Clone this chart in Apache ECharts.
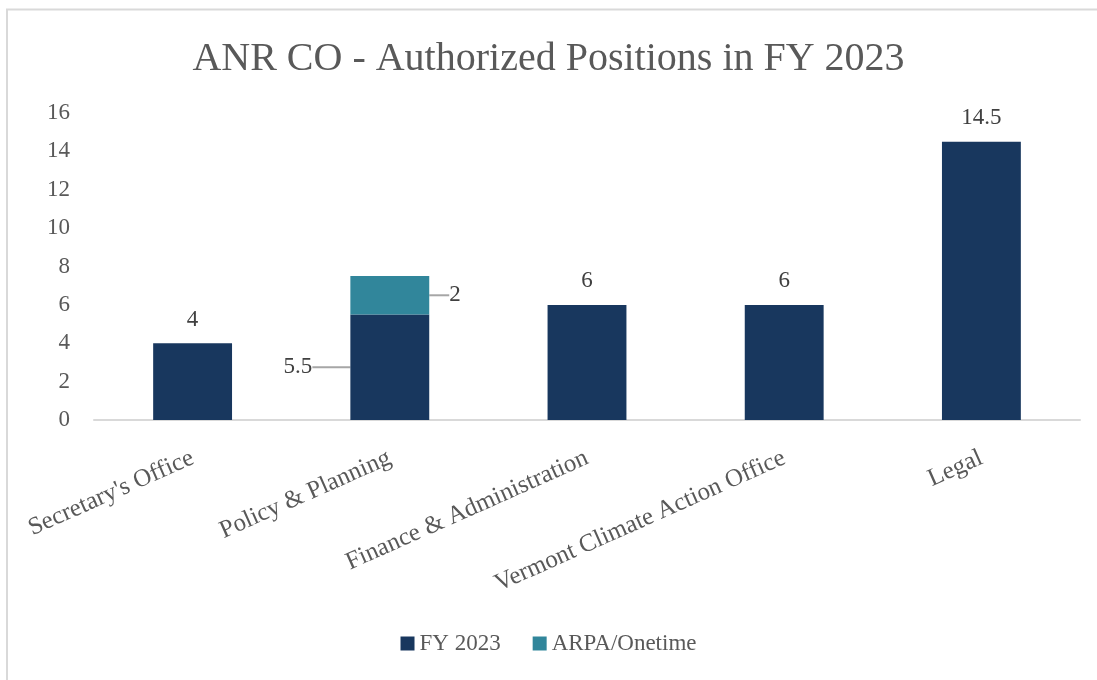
<!DOCTYPE html>
<html>
<head>
<meta charset="utf-8">
<script src="https://cdn.jsdelivr.net/npm/echarts@6/dist/echarts.min.js"></script>
<style>
  html, body { margin: 0; padding: 0; background: #fff; }
  #chart { width: 1097px; height: 680px; }
</style>
</head>
<body>
<div id="chart"></div>
<script>
const categories = ['Secretary\'s Office', 'Policy & Planning', 'Finance & Administration', 'Vermont Climate Action Office', 'Legal'];
const fy2023 = [4, 5.5, 6, 6, 14.5];
const arpaOnetime = [null, 2, null, null, null];
const yTicks = { min: 0, max: 16, interval: 2 };

const FONT = 'Liberation Serif';
const chart = echarts.init(document.getElementById('chart'), null, { renderer: 'canvas' });

chart.setOption({
  animation: false,
  textStyle: { fontFamily: FONT },
  title: {
    text: 'ANR CO - Authorized Positions in FY 2023',
    left: 'center',
    top: 34,
    textStyle: { fontFamily: FONT, fontSize: 40, fontWeight: 'normal', color: '#595959' }
  },
  graphic: [{
    type: 'rect',
    shape: { x: 7, y: 9.5, width: 1200, height: 1000 },
    style: { fill: 'none', stroke: '#d9d9d9', lineWidth: 2 },
    silent: true
  }],
  legend: {
    bottom: 20,
    left: 'center',
    itemWidth: 14,
    itemHeight: 14,
    itemGap: 32,
    icon: 'rect',
    textStyle: { fontFamily: FONT, fontSize: 23, color: '#595959' },
    data: ['FY 2023', 'ARPA/Onetime']
  },
  grid: { left: 94, right: 17, top: 113, bottom: 260, containLabel: false },
  xAxis: {
    type: 'category',
    data: categories,
    axisLine: { lineStyle: { color: '#d9d9d9', width: 2 } },
    axisTick: { show: false },
    axisLabel: {
      rotate: 24,
      interval: 0,
      margin: 37,
      fontFamily: FONT,
      fontSize: 25,
      color: '#595959'
    }
  },
  yAxis: {
    type: 'value',
    min: yTicks.min,
    max: yTicks.max,
    interval: yTicks.interval,
    splitLine: { show: false },
    axisLine: { show: false },
    axisTick: { show: false },
    axisLabel: { margin: 24, fontFamily: FONT, fontSize: 23, color: '#595959' }
  },
  series: [
    {
      name: 'FY 2023',
      type: 'bar',
      stack: 'total',
      barWidth: '40%',
      itemStyle: { color: '#18375e' },
      data: fy2023.map((v, i) => i === 1 ? {
        value: v,
        label: { position: 'left', distance: 0 },
        labelLine: { show: true }
      } : v),
      label: {
        show: true,
        position: 'top',
        distance: 12,
        fontFamily: FONT,
        fontSize: 23,
        color: '#404040'
      },
      labelLayout: (p) => p.dataIndex === 1 ? { dx: -38 } : {},
      labelLine: { lineStyle: { color: '#a6a6a6', width: 2 } }
    },
    {
      name: 'ARPA/Onetime',
      type: 'bar',
      stack: 'total',
      barWidth: '40%',
      itemStyle: { color: '#31869b' },
      data: arpaOnetime,
      label: {
        show: true,
        position: 'right',
        distance: 0,
        fontFamily: FONT,
        fontSize: 23,
        color: '#404040'
      },
      labelLayout: { dx: 20 },
      labelLine: { show: true, lineStyle: { color: '#a6a6a6', width: 2 } }
    }
  ]
});
</script>
</body>
</html>
